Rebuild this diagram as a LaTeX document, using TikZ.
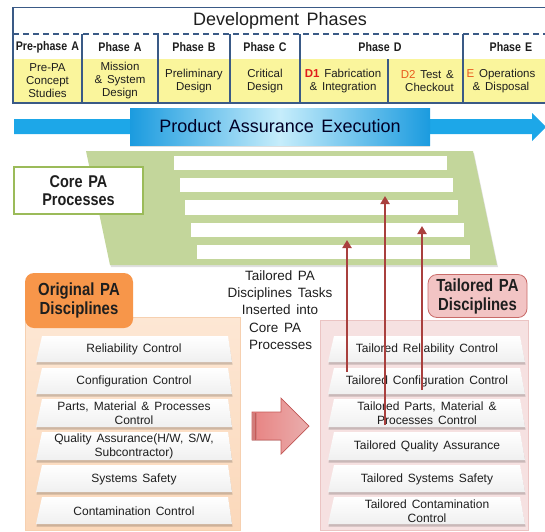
\documentclass[tikz,border=0pt]{standalone}
\usepackage{fontspec}
\setmainfont{Liberation Sans}[WordSpace=1.5]
\newfontfamily\condf{Liberation Sans}[FakeStretch=0.85,WordSpace=1.4]
\usetikzlibrary{shadows,arrows.meta}
\definecolor{hdr}{HTML}{3A5A86}
\definecolor{yel}{HTML}{FAF59C}
\definecolor{dred}{HTML}{E01B1B}
\definecolor{ored}{HTML}{E85A1E}
\definecolor{blueA}{HTML}{1DA7E8}
\definecolor{blueD}{HTML}{1B9BDF}
\definecolor{blueL}{HTML}{C6EDFB}
\definecolor{greenc}{HTML}{C3D69B}
\definecolor{greenb}{HTML}{9BBB59}
\definecolor{peachT}{HTML}{FDE7D4}
\definecolor{peachB}{HTML}{FBD8BA}
\definecolor{peachb}{HTML}{F6D0B0}
\definecolor{orangeT}{HTML}{F7964A}
\definecolor{pinkP}{HTML}{F6E1E1}
\definecolor{pinkPb}{HTML}{EBC4C3}
\definecolor{pinkT}{HTML}{F2C4C4}
\definecolor{pinkB}{HTML}{C86A68}
\definecolor{redA}{HTML}{A9403E}
\definecolor{bigA}{HTML}{E49A99}
\definecolor{bigB}{HTML}{C65B59}
\definecolor{txt}{HTML}{1E1E1E}
\newcommand\trapL[2]{%
  \fill[black,opacity=.18] (42,#1+2.5) -- (228,#1+2.5) -- (232.5,#2+2.5) -- (36.5,#2+2.5) -- cycle;
  \shade[top color=white,bottom color=black!6] (42,#1) -- (228,#1) -- (232,#2) -- (36,#2) -- cycle;}
\newcommand\trapR[2]{%
  \fill[black,opacity=.18] (334,#1+2.5) -- (520,#1+2.5) -- (525.5,#2+2.5) -- (328.5,#2+2.5) -- cycle;
  \shade[top color=white,bottom color=black!6] (334,#1) -- (520,#1) -- (525,#2) -- (328,#2) -- cycle;}
\begin{document}
\begin{tikzpicture}[x=1pt,y=-1pt,
  every node/.style={text=txt,inner sep=0pt},
  phl/.style={font=\condf\bfseries\fontsize{12.5}{13}\selectfont},
  ytxt/.style={font=\fontsize{11.5}{13}\selectfont,align=center},
  itxt/.style={font=\fontsize{12}{14}\selectfont,align=center},
  tbtxt/.style={font=\fontsize{13.5}{17}\selectfont},
  headtxt/.style={font=\condf\bfseries\fontsize{17.5}{19}\selectfont,align=center},
  redarr/.style={draw=redA,line width=2.6pt,-{Triangle[width=9pt,length=8pt]}},
  hline/.style={hdr,line width=1.5pt}]
\useasboundingbox (0,0) rectangle (545,531);
% ---------- header table ----------
\fill[yel] (13,59) rectangle (548,103);
\draw[hline] (548,7.5) -- (13,7.5) -- (13,103) -- (548,103);
\draw[hline,dash pattern=on 6pt off 4pt] (13,34) -- (548,34);
\foreach \x in {82,158,230,300,463} \draw[hline] (\x,34) -- (\x,103);
\draw[hline] (388,59) -- (388,103);
\node[font=\fontsize{18}{20}\selectfont] (title) at (280,21) {Development Phases};
\node[phl] (p0) at (47.5,47) {Pre-phase A};
\node[phl] (p1) at (120,47) {Phase A};
\node[phl] (p2) at (194,47) {Phase B};
\node[phl] (p3) at (265,47) {Phase C};
\node[phl] (p4) at (380,47) {Phase D};
\node[phl] (p5) at (511,47) {Phase E};
\node[ytxt] (y0) at (47.5,81) {Pre-PA\\Concept\\Studies};
\node[ytxt] (y1) at (120,81) {Mission\\\& System\\Design};
\node[ytxt] (y2) at (194,81) {Preliminary\\Design};
\node[ytxt] (y3) at (265,81) {Critical\\Design};
\node[ytxt] (y4) at (343,81) {\textcolor{dred}{\bfseries D1} Fabrication\\\& Integration};
\node[ytxt,align=right,anchor=east] (y5) at (454,81) {\textcolor{ored}{D2} Test \&\\Checkout};
\node[ytxt] (y6) at (501,81) {\textcolor{ored}{E} Operations\\\& Disposal};
% ---------- blue arrow ----------
\fill[blueA] (14,119) -- (532,119) -- (532,113) -- (546,127) -- (532,141) -- (532,134) -- (14,134) -- cycle;
\node[minimum width=300pt,minimum height=37pt,left color=blueD,right color=blueD,middle color=blueL,
  drop shadow={shadow xshift=0pt,shadow yshift=-2pt,opacity=.25},
  font=\fontsize{18}{20}\selectfont,text=black!85!blue] (pae) at (280,126.5) {Product Assurance Execution};
% ---------- core PA processes ----------
\fill[greenc,drop shadow={shadow xshift=1pt,shadow yshift=-2pt,opacity=.25}] (86,151) -- (473,151) -- (497,265) -- (110,265) -- cycle;
\fill[white] (174,156) rectangle (447,170);
\fill[white] (180,178) rectangle (453,192);
\fill[white] (185,200) rectangle (458,215);
\fill[white] (191,223) rectangle (464,237);
\fill[white] (197,245) rectangle (470,259);
\node[draw=greenb,line width=2pt,fill=white,minimum width=129pt,minimum height=47pt,
  font=\condf\bfseries\fontsize{17}{18.5}\selectfont,align=center] (core) at (78.5,190.5) {Core PA\\Processes};
% ---------- original PA disciplines ----------
\fill[top color=peachT,bottom color=peachB,draw=peachb,line width=.6pt] (25,317) rectangle (240,530);
\node[fill=orangeT,rounded corners=9pt,minimum width=108pt,minimum height=55pt,headtxt] (orig) at (79,300.5) {Original PA\\Disciplines};
\trapL{336}{362}
\trapL{368}{394}
\trapL{399}{427}
\trapL{432}{460}
\trapL{465}{492}
\trapL{497}{524}
\node[itxt] (l1) at (134,349.5) {Reliability Control};
\node[itxt] (l2) at (134,381.5) {Configuration Control};
\node[itxt] (l3) at (134,413.5) {Parts, Material \& Processes\\Control};
\node[itxt] (l4) at (134,446) {Quality Assurance(H/W, S/W,\\Subcontractor)};
\node[itxt] (l5) at (134,479) {Systems Safety};
\node[itxt] (l6) at (134,511) {Contamination Control};
% ---------- tailored PA disciplines ----------
\fill[pinkP,draw=pinkPb,line width=.6pt] (320,320) rectangle (528,530);
\node[fill=pinkT,draw=pinkB,line width=.8pt,rounded corners=9pt,minimum width=99pt,minimum height=43pt,headtxt] (tail) at (477.5,296) {Tailored PA\\Disciplines};
\trapR{336}{362}
\trapR{368}{394}
\trapR{399}{427}
\trapR{432}{460}
\trapR{465}{492}
\trapR{497}{524}
\node[itxt] (r1) at (427,349.5) {Tailored Reliability Control};
\node[itxt] (r2) at (427,381.5) {Tailored Configuration Control};
\node[itxt] (r3) at (427,413.5) {Tailored Parts, Material \&\\Processes Control};
\node[itxt] (r4) at (427,446.5) {Tailored Quality Assurance};
\node[itxt] (r5) at (427,479) {Tailored Systems Safety};
\node[itxt] (r6) at (427,511) {Tailored Contamination\\Control};
% ---------- big arrow ----------
\fill[left color=bigA!85!red,right color=bigA!80!white,draw=bigB,line width=.7pt]
  (252,412) -- (281,412) -- (281,398) -- (309,426) -- (281,454) -- (281,440) -- (252,440) -- cycle;
\fill[bigB!80!white] (252,412.5) rectangle (257,439.5);
\draw[bigB,line width=.6pt] (255,412.5) -- (255,439.5);
% ---------- text block ----------
\node[tbtxt,align=center] (tb1) at (280,293) {Tailored PA\\Disciplines Tasks\\Inserted into};
\node[tbtxt,align=left,anchor=west] (tb2) at (249,336) {Core PA\\Processes};
% ---------- red arrows ----------
\coordinate (a1s) at (347,372); \coordinate (a1e) at (347,240);
\coordinate (a2s) at (385,425); \coordinate (a2e) at (385,196);
\coordinate (a3s) at (422,390); \coordinate (a3e) at (422,226);
\draw[redarr] (a1s) -- (a1e);
\draw[redarr] (a2s) -- (a2e);
\draw[redarr] (a3s) -- (a3e);
\end{tikzpicture}
\end{document}
